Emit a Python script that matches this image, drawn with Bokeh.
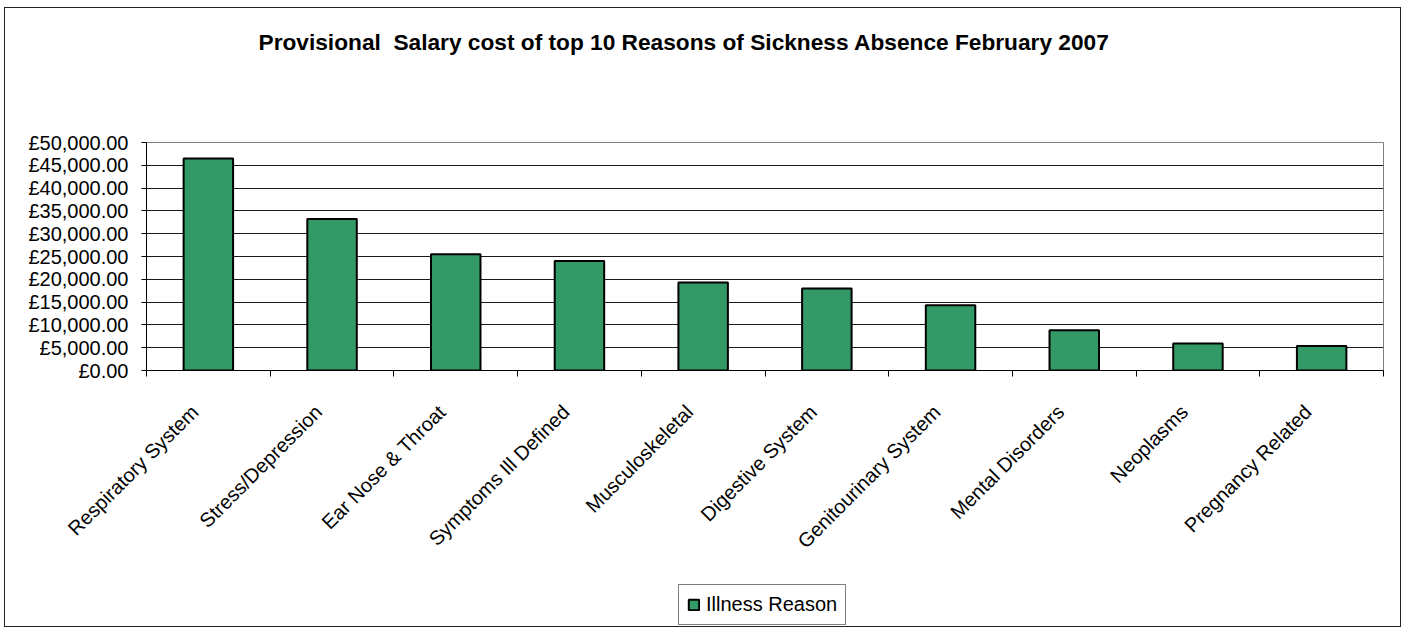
from bokeh.plotting import figure
from bokeh.models import FixedTicker, Legend, LegendItem, Range1d, ColumnDataSource, Title
from bokeh.layouts import column
from bokeh.embed import file_html
from bokeh.resources import INLINE

title_text = "Provisional\u00a0 Salary cost of top 10 Reasons of Sickness Absence February 2007"
categories = ["Respiratory System", "Stress/Depression", "Ear Nose & Throat",
              "Symptoms Ill Defined", "Musculoskeletal", "Digestive System",
              "Genitourinary System", "Mental Disorders", "Neoplasms", "Pregnancy Related"]
costs = [46500, 33200, 25500, 24000, 19300, 18000, 14300, 8800, 5900, 5400]
series_name = "Illness Reason"
y_ticks = [0, 5000, 10000, 15000, 20000, 25000, 30000, 35000, 40000, 45000, 50000]
y_tick_labels = ["£0.00", "£5,000.00", "£10,000.00", "£15,000.00", "£20,000.00",
                 "£25,000.00", "£30,000.00", "£35,000.00", "£40,000.00",
                 "£45,000.00", "£50,000.00"]

FONT = "Liberation Sans"
GREEN = "#339966"
n = len(categories)
centers = [i + 0.5 for i in range(n)]
boundaries = [float(i) for i in range(n + 1)]
label_pos = [round(c - 0.11, 2) for c in centers]

src = ColumnDataSource(dict(x=centers, top=costs, name=categories))

W = 1395
H_MAIN = 575
H_LEG = 43

p = figure(width=W, height=H_MAIN, x_range=Range1d(0, n), y_range=Range1d(0, 50000),
           output_backend="svg", toolbar_location=None,
           min_border_left=141, min_border_right=17, min_border_top=134, min_border_bottom=213)
p.title = None
p.background_fill_color = "white"
p.border_fill_color = "white"
p.outline_line_color = "#808080"
p.outline_line_width = 1

p.vbar(x="x", top="top", width=0.4, bottom=0, source=src,
       fill_color=GREEN, line_color="black", line_width=2)

# spacer between frame and title, then the title itself (outermost)
spacer = Title(text=" ", text_font_size="10px", standoff=75, text_color="white")
p.add_layout(spacer, "above")
main_title = Title(text=title_text, text_font=FONT, text_font_size="22.7px",
                   text_font_style="bold", align="left", offset=112, standoff=0,
                   vertical_align="bottom", text_color="black")
p.add_layout(main_title, "above")

# y axis
yax = p.yaxis[0]
yax.ticker = FixedTicker(ticks=y_ticks, minor_ticks=[])
yax.major_label_overrides = {float(v): s for v, s in zip(y_ticks, y_tick_labels)}
yax.major_label_text_font = FONT
yax.major_label_text_font_size = "20px"
yax.major_label_text_color = "black"
yax.major_tick_out = 5
yax.major_tick_in = 0
yax.minor_tick_out = 0
yax.minor_tick_in = 0
yax.major_label_standoff = 13
yax.axis_line_color = "black"
yax.major_tick_line_color = "black"

# x axis
xax = p.xaxis[0]
xax.ticker = FixedTicker(ticks=label_pos, minor_ticks=boundaries)
xax.major_label_overrides = {c: s for c, s in zip(label_pos, categories)}
xax.major_label_orientation = 0.7854
xax.major_label_text_font = FONT
xax.major_label_text_font_size = "20px"
xax.major_label_text_color = "black"
xax.major_tick_out = 0
xax.major_tick_in = 0
xax.minor_tick_out = 6
xax.minor_tick_in = 0
xax.minor_tick_line_color = "black"
xax.major_label_standoff = 32
xax.axis_line_color = "black"

p.xgrid.grid_line_color = None
p.ygrid.ticker = FixedTicker(ticks=y_ticks)
p.ygrid.grid_line_color = "#1a1a1a"
p.ygrid.grid_line_width = 1

# legend strip below the chart (same series as a hidden renderer, for the swatch)
pl = figure(width=W, height=H_LEG, x_range=Range1d(0, n), y_range=Range1d(0, 50000),
            output_backend="svg", toolbar_location=None,
            x_axis_type=None, y_axis_type=None,
            min_border_left=0, min_border_right=0, min_border_top=0, min_border_bottom=0)
pl.title = None
pl.xgrid.grid_line_color = None
pl.ygrid.grid_line_color = None
pl.outline_line_color = None
pl.background_fill_color = "white"
pl.border_fill_color = "white"
leg_r = pl.vbar(x="x", top="top", width=0.4, bottom=0, source=src,
                fill_color=GREEN, line_color="black", line_width=2)
leg_r.visible = False

legend = Legend(items=[LegendItem(label=series_name, renderers=[leg_r])],
                location=(532, 1), orientation="horizontal",
                border_line_color="black", border_line_width=1,
                background_fill_color="white", background_fill_alpha=1,
                inactive_fill_alpha=0,
                glyph_width=13, glyph_height=13, label_standoff=6,
                padding=8, margin=0, spacing=0,
                label_text_font=FONT, label_text_font_size="20px",
                label_text_color="black")
pl.add_layout(legend)

layout = column(p, pl, spacing=0)
layout.styles = {"border": "1px solid #222222", "margin-left": "4px", "margin-top": "7px"}

open("out.html", "w").write(file_html(layout, INLINE))
